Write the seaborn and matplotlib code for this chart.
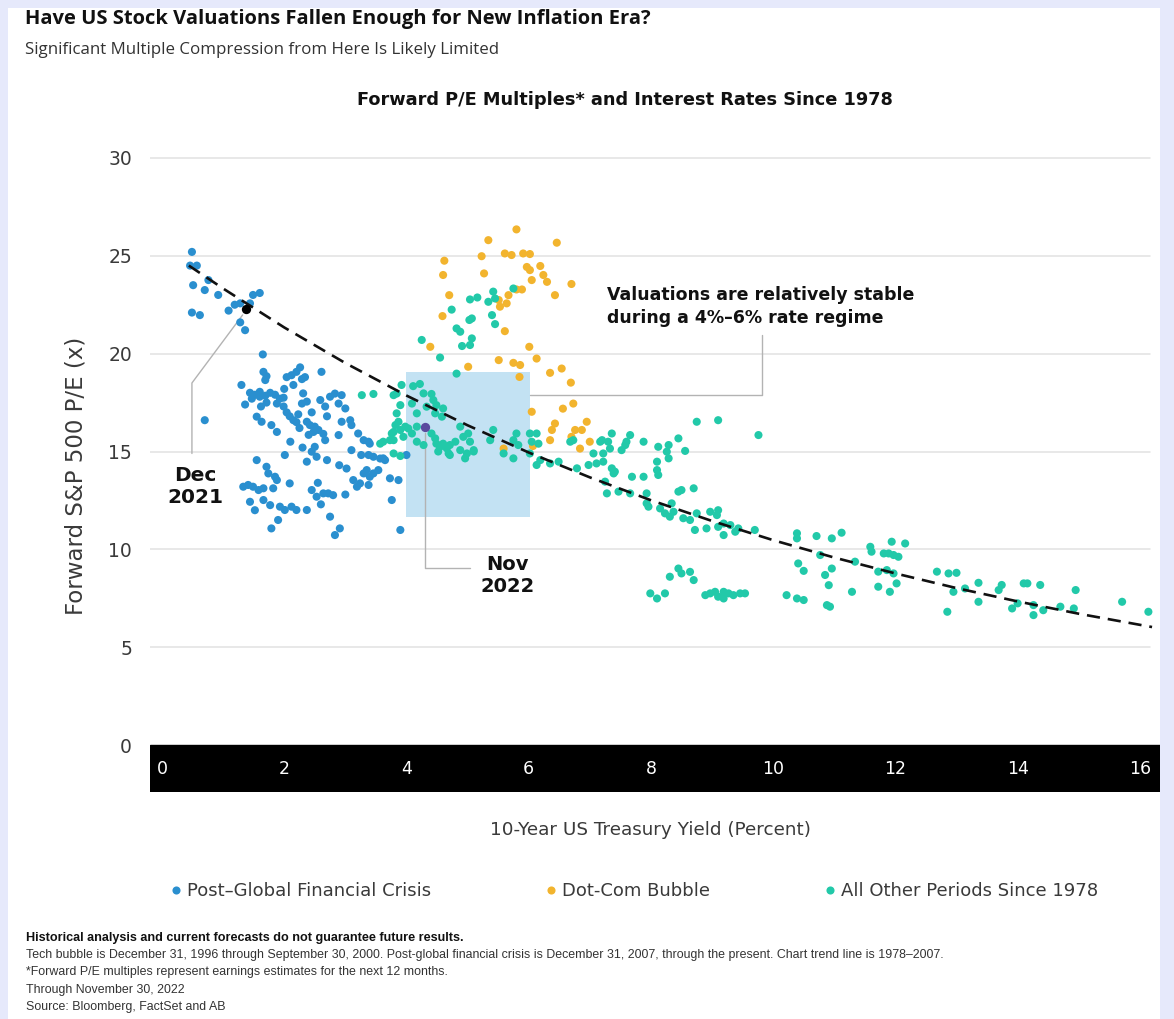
import numpy as np
import pandas as pd
import matplotlib
matplotlib.use("Agg")
import matplotlib.pyplot as plt
from matplotlib.patches import Rectangle
import seaborn as sns

# ---------------------------------------------------------------- data
# Post-Global Financial Crisis (10y yield %, forward P/E)
gfc_x = [0.49, 0.46, 0.57, 0.76, 0.51, 0.70, 0.92, 0.49, 0.62, 1.09, 1.19, 1.28, 1.44, 1.49, 1.60,
         1.28, 1.36, 0.70, 1.65, 1.30, 1.44, 1.52, 1.60, 1.69, 1.77, 1.85, 1.93, 1.36, 1.47, 1.60,
         1.71, 1.88, 1.99, 1.66, 1.71, 1.69, 2.04, 2.12, 2.20, 2.26, 2.29, 2.34, 2.61, 1.99, 2.04,
         2.09, 2.15, 2.20, 2.23, 2.31, 2.37, 2.29, 1.55, 1.63, 1.79, 1.88, 2.37, 2.42, 2.50, 2.56,
         2.64, 2.48, 2.40, 2.59, 2.67, 2.75, 2.83, 2.89, 2.94, 2.89, 3.08, 3.10, 2.94, 2.50, 2.45,
         2.53, 2.37, 2.67, 2.70, 2.01, 1.55, 1.71, 1.74, 1.85, 1.88, 2.09, 1.33, 1.41, 1.49, 1.58,
         1.66, 1.44, 1.66, 1.77, 1.82, 1.93, 2.01, 1.90, 1.79, 2.12, 2.20, 2.37, 2.45, 2.53, 2.64,
         2.72, 2.80, 2.75, 2.91, 2.83, 3.02, 3.13, 3.19, 3.30, 3.35, 3.40, 3.46, 3.54, 3.24, 3.38,
         3.21, 3.30, 3.38, 3.40, 3.10, 3.26, 3.38, 3.46, 3.57, 3.65, 3.73, 3.87, 3.76, 3.90, 3.62,
         4.00, 2.00, 2.15, 1.62, 2.25, 2.45, 2.70, 3.00, 2.10, 2.30, 2.90, 3.00, 2.55, 1.52, 2.60]
gfc_y = [25.20, 24.50, 24.50, 23.76, 23.50, 23.25, 23.00, 22.10, 21.97, 22.20, 22.50, 22.57, 22.57, 23.00, 23.10,
         21.60, 21.20, 16.60, 19.96, 18.40, 18.00, 17.90, 18.05, 17.85, 18.00, 17.90, 17.70, 17.40, 17.70, 17.80,
         17.50, 17.45, 17.75, 19.07, 18.85, 18.65, 18.80, 18.90, 19.07, 19.30, 18.70, 18.80, 19.07, 17.30, 17.00,
         16.80, 16.60, 16.50, 16.90, 17.97, 17.55, 17.45, 16.78, 16.52, 16.35, 16.00, 16.52, 16.35, 16.27, 16.10,
         15.90, 16.00, 15.85, 17.63, 17.30, 17.80, 17.96, 17.45, 17.88, 15.84, 16.60, 16.35, 16.52, 15.24, 14.99,
         14.73, 14.48, 15.58, 14.56, 14.82, 14.56, 14.22, 13.88, 13.71, 13.54, 13.37, 13.20, 13.29, 13.20, 13.03,
         13.12, 12.43, 12.52, 12.26, 13.12, 12.18, 12.01, 11.50, 11.07, 12.18, 12.01, 12.01, 13.03, 12.69, 12.86,
         12.86, 12.77, 11.67, 11.07, 10.73, 14.13, 13.54, 13.20, 13.88, 14.05, 13.71, 13.88, 14.05, 13.37, 13.29,
         15.92, 15.58, 15.50, 15.40, 15.07, 14.82, 14.82, 14.73, 14.64, 14.56, 13.63, 13.54, 12.52, 10.99, 14.65,
         14.82, 18.20, 18.40, 17.30, 16.20, 17.00, 16.80, 17.20, 15.50, 15.20, 14.30, 12.80, 13.40, 12.00, 12.30]

# Dot-com bubble
dot_x = [5.80, 5.34, 6.46, 4.62, 4.60, 5.23, 5.61, 5.72, 5.91, 6.02, 5.97, 6.02, 6.19, 6.24, 6.30,
         6.05, 5.27, 6.70, 5.80, 5.89, 6.43, 4.70, 5.67, 5.51, 5.53, 5.64, 4.59, 5.61, 4.39, 6.01,
         6.13, 5.01, 5.51, 5.75, 5.86, 6.35, 6.54, 5.85, 6.69, 6.05, 6.56, 6.73, 6.43, 6.38, 6.35,
         6.95, 6.87, 6.76, 6.70, 6.84, 7.00, 5.59, 6.07]
dot_y = [26.35, 25.80, 25.67, 24.75, 24.02, 24.98, 25.12, 25.04, 25.12, 25.09, 24.43, 24.27, 24.48, 24.02, 23.67,
         23.76, 24.10, 23.56, 23.28, 23.28, 22.99, 22.99, 22.99, 22.74, 22.40, 22.57, 21.92, 21.15, 20.35, 20.35,
         19.75, 19.33, 19.67, 19.53, 19.42, 19.02, 19.24, 18.81, 18.52, 17.03, 17.19, 17.45, 16.43, 16.10, 15.58,
         16.52, 16.10, 16.10, 15.75, 15.15, 15.50, 15.15, 15.28]

# All other periods since 1978
oth_x = [3.27, 3.46, 3.57, 3.62, 3.73, 3.84, 3.92, 3.84, 3.87, 3.79, 3.90, 3.98, 3.79, 3.90, 4.11,
         4.22, 3.79, 4.28, 4.41, 4.44, 3.90, 4.09, 4.17, 4.33, 4.49, 4.60, 4.47, 4.58, 3.82, 3.76,
         3.95, 4.03, 4.09, 4.17, 3.79, 4.17, 4.28, 4.41, 4.47, 4.49, 4.55, 4.60, 4.66, 4.69, 4.52,
         4.71, 4.80, 4.88, 4.93, 5.01, 5.04, 5.10, 4.96, 4.82, 4.55, 4.25, 5.42, 5.37, 5.80, 5.75,
         5.83, 6.02, 6.05, 6.13, 6.16, 5.59, 5.75, 6.02, 6.19, 6.13, 6.35, 4.99, 5.10, 4.88, 4.71,
         5.04, 5.16, 4.74, 5.34, 5.42, 5.45, 5.07, 5.03, 4.82, 4.88, 5.40, 5.45, 5.07, 5.04, 4.91,
         5.75, 6.68, 6.73, 7.20, 7.06, 8.75, 9.10, 9.76, 7.36, 7.66, 7.88, 8.12, 8.45, 8.56, 8.29,
         8.26, 8.29, 7.17, 7.30, 7.33, 7.52, 7.58, 7.60, 7.22, 6.98, 7.11, 7.22, 7.36, 7.41, 7.39,
         6.79, 6.49, 7.69, 7.88, 8.10, 8.10, 8.12, 7.25, 7.28, 7.47, 7.66, 7.93, 7.96, 7.93, 8.15,
         8.23, 8.34, 8.37, 8.45, 8.50, 8.70, 8.31, 8.53, 8.64, 8.75, 8.72, 8.91, 8.97, 9.08, 9.10,
         9.10, 9.19, 9.19, 9.30, 9.38, 9.43, 9.70, 8.31, 8.45, 8.50, 8.64, 8.70, 7.99, 8.10, 8.23,
         8.89, 8.97, 9.05, 9.10, 9.19, 9.19, 9.27, 9.35, 9.46, 9.54, 10.39, 10.39, 10.71, 10.96, 11.12,
         10.77, 10.41, 10.50, 10.85, 10.96, 10.91, 11.29, 11.34, 10.22, 10.39, 10.50, 10.88, 10.93, 11.59, 11.61,
         11.81, 11.89, 11.97, 12.05, 11.94, 12.16, 11.72, 11.86, 11.97, 12.02, 11.72, 11.91, 12.68, 12.87, 13.00,
         12.95, 12.85, 13.14, 13.36, 13.36, 13.69, 13.74, 13.91, 14.00, 14.10, 14.16, 14.26, 14.37, 14.42, 14.26,
         14.70, 14.92, 14.95, 15.71, 16.14]
oth_y = [17.88, 17.94, 15.40, 15.50, 15.58, 17.96, 18.40, 16.95, 16.52, 16.00, 16.10, 16.27, 14.90, 14.77, 18.34,
         18.45, 17.88, 17.97, 17.94, 17.63, 17.37, 17.45, 16.95, 17.29, 17.37, 17.20, 16.95, 16.78, 16.35, 15.92,
         15.75, 16.18, 15.92, 16.27, 15.58, 15.50, 15.33, 15.92, 15.67, 15.40, 15.24, 15.40, 15.16, 14.90, 15.00,
         15.33, 15.50, 16.27, 15.75, 15.92, 15.50, 15.00, 14.65, 18.98, 19.80, 20.70, 16.10, 15.58, 15.92, 15.58,
         15.33, 15.92, 15.50, 15.92, 15.40, 14.90, 14.65, 14.90, 14.56, 14.31, 14.39, 14.90, 15.07, 15.07, 14.82,
         22.77, 22.87, 22.25, 22.65, 23.17, 22.82, 21.80, 21.72, 21.29, 21.12, 21.97, 21.51, 20.78, 20.44, 20.39,
         23.33, 15.50, 15.58, 15.58, 14.90, 16.52, 16.60, 15.84, 15.92, 15.84, 15.50, 15.24, 15.67, 15.03, 15.33,
         14.99, 14.65, 15.50, 15.50, 15.15, 15.07, 15.33, 15.50, 14.90, 14.31, 14.39, 14.48, 14.14, 13.97, 13.88,
         14.14, 14.48, 13.71, 13.71, 14.48, 14.05, 13.80, 13.46, 12.86, 12.95, 12.86, 12.86, 12.18, 12.35, 12.09,
         11.84, 12.35, 11.92, 12.95, 13.03, 13.12, 11.67, 11.59, 11.50, 11.84, 10.99, 11.07, 11.92, 11.75, 12.00,
         11.15, 11.32, 10.73, 11.24, 10.90, 11.07, 10.99, 8.60, 9.02, 8.77, 8.85, 8.43, 7.75, 7.49, 7.75,
         7.66, 7.75, 7.83, 7.58, 7.83, 7.49, 7.75, 7.66, 7.75, 7.75, 10.82, 10.56, 10.68, 10.56, 10.85,
         9.71, 9.28, 8.90, 8.69, 9.02, 8.17, 7.83, 9.37, 7.66, 7.49, 7.41, 7.15, 7.07, 10.13, 9.88,
         9.79, 9.79, 9.71, 9.62, 10.39, 10.30, 8.86, 8.94, 8.77, 8.26, 8.09, 7.83, 8.86, 8.77, 8.80,
         7.83, 6.81, 8.00, 8.29, 7.32, 7.92, 8.18, 6.98, 7.24, 8.26, 8.26, 7.15, 8.18, 6.89, 6.64,
         7.07, 6.98, 7.92, 7.32, 6.81]

# 1978-2007 trend line
trend_x = [0.44, 1, 2, 3, 4, 5, 6, 7, 8, 9, 10, 11, 12, 13, 14, 15, 16.2]
trend_y = [24.5, 23.33, 21.34, 19.52, 17.86, 16.34, 14.95, 13.68, 12.51, 11.45, 10.47, 9.58, 8.77, 8.02, 7.34, 6.71, 6.03]

# Highlighted months
dec2021 = (1.37, 22.28)
nov2022 = (4.30, 16.25)

# 4%-6% rate regime band
band_x = (4.0, 6.02)
band_y = (11.65, 19.05)

period_names = ["Post\u2013Global Financial Crisis", "Dot-Com Bubble", "All Other Periods Since 1978"]
period_colors = ["#2a8fcf", "#f2b42e", "#22c9a9"]

x_ticks = [0, 2, 4, 6, 8, 10, 12, 14, 16]
y_ticks = [0, 5, 10, 15, 20, 25, 30]

df = pd.DataFrame({
    "yield": gfc_x + dot_x + oth_x,
    "pe": gfc_y + dot_y + oth_y,
    "period": [period_names[0]] * len(gfc_x) + [period_names[1]] * len(dot_x) + [period_names[2]] * len(oth_x),
})

# ---------------------------------------------------------------- figure
W, H = 1174, 1019
sns.set_theme(style="white")
plt.rcParams["font.family"] = ["DejaVu Sans"]

fig = plt.figure(figsize=(W / 100, H / 100), dpi=100)
fig.patch.set_facecolor("#e6e9fb")
fig.patches.append(Rectangle((8 / W, 0), (1160 - 8) / W, 1 - 8 / H, transform=fig.transFigure,
                             facecolor="white", edgecolor="none", zorder=-10))


def fx(px):
    return px / W


def fy(py):
    return 1 - py / H


ax = fig.add_axes([fx(150), fy(792), (1160 - 150) / W, (792 - 138.4) / H])
ax.set_facecolor("none")
ax.set_axisbelow(False)

bar_bottom = -2.4
ax.set_xlim(-0.196, 16.33)
ax.set_ylim(bar_bottom, 31)

# horizontal gridlines
for t in y_ticks[1:]:
    ax.axhline(t, xmin=0, xmax=0.99, color="#e1e1e1", lw=1.1, zorder=0)

# black axis bar holding the x tick labels
ax.axhspan(bar_bottom, 0, color="black", zorder=1)

# rate regime band
ax.add_patch(Rectangle((band_x[0], band_y[0]), band_x[1] - band_x[0], band_y[1] - band_y[0],
                       facecolor="#c3e2f3", edgecolor="none", zorder=1))

sns.scatterplot(data=df, x="yield", y="pe", hue="period", hue_order=period_names,
                palette=period_colors, s=34, linewidth=0, ax=ax, zorder=3, legend=True)

ax.plot(trend_x, trend_y, color="#111111", lw=1.9, dashes=(5, 3), zorder=4)

ax.scatter([dec2021[0]], [dec2021[1]], s=45, color="black", zorder=5, linewidth=0)
ax.scatter([nov2022[0]], [nov2022[1]], s=45, color="#5a4a9e", zorder=5, linewidth=0)

# connector lines and callouts
lc = "#b3b3b3"
ax.plot([dec2021[0] - 0.05, 0.49, 0.49], [dec2021[1] - 0.3, 18.5, 14.9], color=lc, lw=1, zorder=2)
ax.text(0.54, 13.2, "Dec\n2021", ha="center", va="center", fontsize=14.5, fontweight="bold",
        linespacing=1.2, color="#111111")

ax.plot([nov2022[0], nov2022[0], 5.04], [nov2022[1] - 0.3, 9.04, 9.04], color=lc, lw=1, zorder=2)
ax.text(5.66, 8.65, "Nov\n2022", ha="center", va="center", fontsize=14, fontweight="bold",
        linespacing=1.2, color="#111111")

ax.plot([band_x[1], 9.82, 9.82], [17.88, 17.88, 20.95], color=lc, lw=1, zorder=2)
ax.text(7.28, 22.4, "Valuations are relatively stable\nduring a 4%\u20136% rate regime", ha="left",
        va="center", fontsize=12.5, fontweight="bold", linespacing=1.35, color="#111111")

# axes styling
for s in ax.spines.values():
    s.set_visible(False)
ax.set_xticks(x_ticks)
ax.set_xticklabels([str(t) for t in x_ticks])
ax.set_yticks(y_ticks)
ax.set_yticklabels([str(t) for t in y_ticks])
ax.tick_params(axis="x", length=0, pad=-23, labelsize=12.5, labelcolor="white")
ax.tick_params(axis="y", length=0, pad=13, labelsize=13.5, labelcolor="#3a3a3a")
ax.set_xlabel("")
ax.set_ylabel("Forward S&P 500 P/E (x)", fontsize=16.5, color="#3a3a3a")
ax.yaxis.set_label_coords(-0.062, 0.4835)

fig.text(fx(650), fy(830), "10-Year US Treasury Yield (Percent)", ha="center", va="center",
         fontsize=13.2, color="#3a3a3a")

sns.move_legend(ax, "center", bbox_to_anchor=((628 - 150) / 1010, (792 - 891) / 653.6), ncol=3,
                frameon=False, title=None, fontsize=13, handletextpad=-0.35, columnspacing=5.6,
                markerscale=1.0, labelcolor="#3a3a3a")

# titles
fig.text(fx(25), fy(19), "Have US Stock Valuations Fallen Enough for New Inflation Era?", ha="left",
         va="center", fontsize=14.5, fontweight="bold", family=["Open Sans", "DejaVu Sans"], color="#111111")
fig.text(fx(25), fy(50), "Significant Multiple Compression from Here Is Likely Limited", ha="left",
         va="center", fontsize=12.2, family=["Open Sans", "DejaVu Sans"], color="#333333")
fig.text(fx(625), fy(100), "Forward P/E Multiples* and Interest Rates Since 1978", ha="center",
         va="center", fontsize=12.8, fontweight="bold", color="#111111")

# footnotes
foot = ["Liberation Sans", "DejaVu Sans"]
fig.text(fx(26), fy(938), "Historical analysis and current forecasts do not guarantee future results.",
         ha="left", va="center", fontsize=9.1, fontweight="bold", family=foot, color="#111111")
notes = [
    "Tech bubble is December 31, 1996 through September 30, 2000. Post-global financial crisis is December 31, 2007, "
    "through the present. Chart trend line is 1978\u20132007.",
    "*Forward P/E multiples represent earnings estimates for the next 12 months.",
    "Through November 30, 2022",
    "Source: Bloomberg, FactSet and AB",
]
for i, line in enumerate(notes):
    fig.text(fx(26), fy(955 + 17.3 * i), line, ha="left", va="center", fontsize=8.9, family=foot,
             color="#333333")

fig.savefig("out.png", dpi=100, facecolor=fig.get_facecolor())
